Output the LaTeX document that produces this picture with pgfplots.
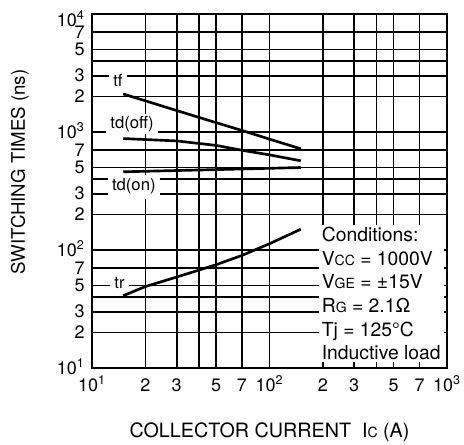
\documentclass[border=0pt]{standalone}
\usepackage{pgfplots}
\pgfplotsset{compat=1.18}
\usepackage{fontspec}
\setmainfont{TeX Gyre Heros}

% small-size subscript letters (VCC, VGE, RG, IC)
\newcommand{\sub}[1]{{\fontsize{10.5}{10.5}\selectfont #1}}

\begin{document}
\begin{tikzpicture}
\begin{axis}[name=ax,
  scale only axis, width=266.25pt, height=265.5pt,
  xmode=log, ymode=log,
  xmin=10, xmax=1000, ymin=10, ymax=10000,
  xtick={10,20,30,50,70,100,200,300,500,700,1000},
  xticklabels={10\textsuperscript{1},2,3,5,7,10\textsuperscript{2},2,3,5,7,10\textsuperscript{3}},
  ytick={10,20,30,50,70,100,200,300,500,700,1000,2000,3000,5000,7000,10000},
  yticklabels={10\textsuperscript{1},2,3,5,7,10\textsuperscript{2},2,3,5,7,10\textsuperscript{3},2,3,5,7,\raisebox{-5pt}{10\textsuperscript{4}}},
  major tick length=0pt,
  axis line style={line width=1.8pt},
  tick label style={font=\fontsize{13.5}{13.5}\selectfont},
  xticklabel style={anchor=base, yshift=-17.5pt},
  yticklabel style={anchor=base east, yshift=-4.7pt, xshift=-2pt},
  clip=false,
]
% grid at 2,3,4,5,7 of each decade
\pgfplotsinvokeforeach{20,30,40,50,70,100,200,300,400,500,700}{
  \draw[black, line width=1.3pt] (axis cs:#1,10) -- (axis cs:#1,10000);
}
\pgfplotsinvokeforeach{20,30,40,50,70,100,200,300,400,500,700,1000,2000,3000,4000,5000,7000}{
  \draw[black, line width=1.3pt] (axis cs:10,#1) -- (axis cs:1000,#1);
}

% t_f
\addplot[black, line width=2pt] coordinates {(15,2100) (30,1520) (50,1200) (70,1030) (100,870) (150,720)};
% t_d(off)
\addplot[black, line width=2pt] coordinates {(15,880) (30,840) (50,770) (70,700) (100,640) (150,570)};
% t_d(on)
\addplot[black, line width=2pt] coordinates {(15,460) (50,480) (150,500)};
% t_r
\addplot[black, line width=2pt] coordinates {(15,41) (20,49) (30,59) (50,75) (70,90) (100,113) (150,150)};

\begin{scope}[every node/.style={fill=white, inner xsep=3pt, inner ysep=1.5pt, font=\fontsize{12.5}{12.5}\selectfont}]
\node at (axis cs:14,2720) {tf};
\node at (axis cs:16.8,1175) {td(off)};
\node[inner ysep=3pt] at (axis cs:17.2,344) {td(on)};
\node at (axis cs:14.3,52.8) {tr};
\end{scope}

\node[anchor=north east, fill=white, inner xsep=2.25pt, inner ysep=1.5pt,
      align=left, font=\fontsize{14.5}{17.7}\selectfont]
  at (rel axis cs:0.9915,0.404)
  {Conditions:\\
   V\sub{CC} = 1000V\\
   V\sub{GE} = ±15V\\
   R\sub{G} = 2.1Ω\\
   Tj = 125°C\\
   Inductive load};

\node[anchor=base, font=\fontsize{14.8}{14.8}\selectfont] at (rel axis cs:0.5,-0.195)
  {COLLECTOR CURRENT\ \ I\sub{C} (A)};
\node[rotate=90, font=\fontsize{14}{14}\selectfont] at (rel axis cs:-0.203,0.554)
  {SWITCHING TIMES (ns)};
\end{axis}
\pgfresetboundingbox
\path (ax.south west) ++(-69pt,-57.75pt) rectangle ++(348pt,333.75pt);
\end{tikzpicture}
\end{document}
